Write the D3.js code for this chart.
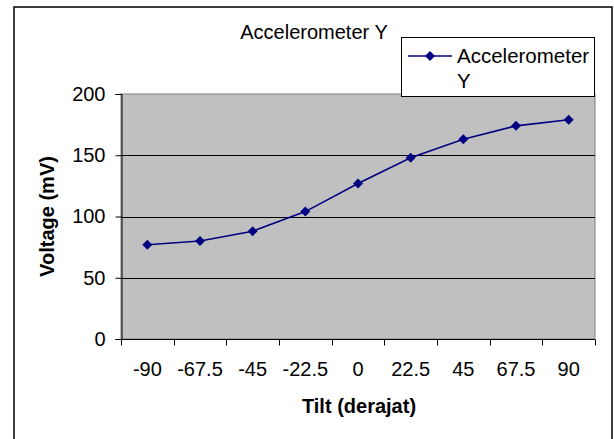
<!DOCTYPE html>
<html>
<head>
<meta charset="utf-8">
<script src="https://cdn.jsdelivr.net/npm/d3@7"></script>
<style>
  html, body { margin: 0; padding: 0; background: #fff; }
  svg { display: block; font-family: Arial, "Liberation Sans", sans-serif; }
</style>
</head>
<body>
<svg id="chart" width="614" height="439"></svg>
<script>
const categories = ["-90", "-67.5", "-45", "-22.5", "0", "22.5", "45", "67.5", "90"];
const seriesName = "Accelerometer Y";
const values = [77, 80, 88, 104, 127, 148, 163, 174, 179];
const yTicks = [0, 50, 100, 150, 200];
const chartTitle = "Accelerometer Y";
const xTitle = "Tilt (derajat)";
const yTitle = "Voltage (mV)";

const svg = d3.select("#chart");
const W = 614, H = 439;
const plot = { left: 121, right: 595, top: 94, bottom: 339 };
const fs = 20;

svg.append("rect").attr("width", W).attr("height", H).attr("fill", "#fff");
// chart area border
svg.append("rect").attr("x", 14).attr("y", 7).attr("width", 598).attr("height", 445)
  .attr("fill", "none").attr("stroke", "#000").attr("stroke-width", 1.5);

const x = d3.scaleBand().domain(categories).range([plot.left, plot.right]).padding(0);
const y = d3.scaleLinear().domain([0, 200]).range([plot.bottom, plot.top]);

// plot area
svg.append("rect").attr("x", plot.left).attr("y", plot.top)
  .attr("width", plot.right - plot.left).attr("height", plot.bottom - plot.top)
  .attr("fill", "#C0C0C0").attr("stroke", "#808080").attr("stroke-width", 1);

// gridlines
svg.append("g").selectAll("line").data(yTicks.filter(t => t > 0 && t < 200)).join("line")
  .attr("x1", plot.left).attr("x2", plot.right)
  .attr("y1", d => Math.round(y(d)) + 0.5).attr("y2", d => Math.round(y(d)) + 0.5)
  .attr("stroke", "#000").attr("stroke-width", 1);

// Y axis
const yAxis = d3.axisLeft(y).tickValues(yTicks).tickSize(6).tickPadding(10);
const gy = svg.append("g").attr("transform", `translate(${plot.left + 0.5},0)`).call(yAxis);
gy.select(".domain").attr("stroke", "#000");
gy.selectAll(".tick line").attr("stroke", "#000");
gy.selectAll("text").attr("font-size", fs).attr("fill", "#000")
  .attr("font-family", "Arial, 'Liberation Sans', sans-serif");

// X axis: ticks at band boundaries
const gx = svg.append("g").attr("transform", `translate(0,${plot.bottom + 0.5})`);
gx.append("line").attr("x1", plot.left).attr("x2", plot.right).attr("stroke", "#000");
const boundaries = d3.range(categories.length + 1).map(i => plot.left + i * x.bandwidth());
gx.selectAll("line.tk").data(boundaries).join("line").attr("class", "tk")
  .attr("x1", d => Math.round(d) + 0.5).attr("x2", d => Math.round(d) + 0.5)
  .attr("y1", 0).attr("y2", 6).attr("stroke", "#000");
gx.selectAll("text").data(categories).join("text")
  .attr("x", d => x(d) + x.bandwidth() / 2).attr("y", 36)
  .attr("text-anchor", "middle").attr("font-size", fs).attr("fill", "#000")
  .text(d => d);

// line
const line = d3.line().x((d, i) => x(categories[i]) + x.bandwidth() / 2).y(d => y(d));
svg.append("path").datum(values).attr("d", line)
  .attr("fill", "none").attr("stroke", "#000080").attr("stroke-width", 1.6);
svg.append("g").selectAll("path").data(values).join("path")
  .attr("transform", (d, i) => `translate(${x(categories[i]) + x.bandwidth() / 2},${y(d)}) rotate(45)`)
  .attr("d", d3.symbol().type(d3.symbolSquare).size(50)())
  .attr("fill", "#000080");

// title
svg.append("text").attr("x", 314).attr("y", 39).attr("text-anchor", "middle")
  .attr("font-size", fs).attr("fill", "#000").text(chartTitle);

// axis titles
svg.append("text").attr("x", 359).attr("y", 413).attr("text-anchor", "middle")
  .attr("font-size", fs).attr("font-weight", "bold").attr("fill", "#000").text(xTitle);
svg.append("text").attr("transform", "translate(54,216.5) rotate(-90)").attr("text-anchor", "middle")
  .attr("font-size", fs).attr("font-weight", "bold").attr("fill", "#000").text(yTitle);

// legend
const lg = svg.append("g");
lg.append("rect").attr("x", 401.5).attr("y", 37.5).attr("width", 193).attr("height", 59)
  .attr("fill", "#fff").attr("stroke", "#000").attr("stroke-width", 1);
lg.append("line").attr("x1", 408).attr("x2", 452).attr("y1", 56).attr("y2", 56)
  .attr("stroke", "#000080").attr("stroke-width", 1.6);
lg.append("path").attr("transform", "translate(430,56) rotate(45)")
  .attr("d", d3.symbol().type(d3.symbolSquare).size(50)()).attr("fill", "#000080");
const nameParts = seriesName.split(" ");
lg.append("text").attr("x", 457).attr("y", 63).attr("font-size", 20.5).attr("fill", "#000").text(nameParts[0]);
lg.append("text").attr("x", 457).attr("y", 88).attr("font-size", 20.5).attr("fill", "#000").text(nameParts[1]);
</script>
</body>
</html>
